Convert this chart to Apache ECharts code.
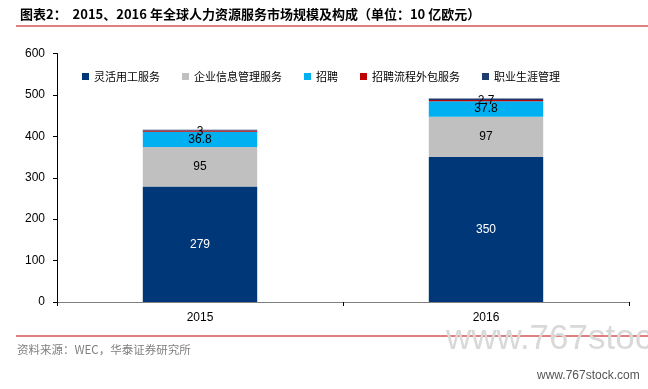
<!DOCTYPE html>
<html>
<head>
<meta charset="utf-8">
<script src="https://cdn.jsdelivr.net/npm/echarts@6/dist/echarts.min.js"></script>
<style>
html,body{margin:0;padding:0;background:#fff;}
#c{width:648px;height:389px;}
</style>
</head>
<body>
<div id="c"></div>
<script>
var categories = ['2015', '2016'];
var flexibleStaffing = [279, 350];
var infoManagement = [95, 97];
var recruitment = [36.8, 37.8];
var rpo = [3, 2.7];
var careerManagement = [2, 4];
var seriesNames = ['灵活用工服务', '企业信息管理服务', '招聘', '招聘流程外包服务', '职业生涯管理'];
var yTicks = [0, 100, 200, 300, 400, 500, 600];

var chart = echarts.init(document.getElementById('c'), null, {renderer: 'canvas'});
var lblBase = {show: true, position: 'inside', fontSize: 12, fontFamily: 'Liberation Sans, Arial, sans-serif'};
function mk(name, data, color, labelColor, showLabel) {
  return {
    name: name, type: 'bar', stack: 'total', data: data, barWidth: '40%',
    itemStyle: {color: color},
    label: Object.assign({}, lblBase, {show: showLabel, color: labelColor}),
    emphasis: {disabled: true}
  };
}
chart.setOption({
  animation: false,
  backgroundColor: '#fff',
  title: {
    text: '图表2：  2015、2016 年全球人力资源服务市场规模及构成（单位：10 亿欧元）',
    left: 15, top: 3,
    textStyle: {fontSize: 13, fontWeight: 'bold', color: '#000', fontFamily: 'Noto Sans CJK SC, Liberation Sans, sans-serif'}
  },
  legend: {
    data: seriesNames,
    left: 77, top: 66,
    itemWidth: 7, itemHeight: 7, itemGap: 22,
    icon: 'rect',
    textStyle: {fontSize: 11, color: '#000', fontFamily: 'Noto Sans CJK SC, sans-serif'}
  },
  grid: {left: 57, right: 19, top: 53.5, bottom: 87, containLabel: false},
  xAxis: {
    type: 'category', data: categories,
    axisLine: {lineStyle: {color: '#7f7f7f', width: 1}},
    axisTick: {show: true, inside: false, length: 4, alignWithLabel: false, lineStyle: {color: '#000'}},
    axisLabel: {fontSize: 12, color: '#000', margin: 10, fontFamily: 'Liberation Sans, Arial, sans-serif'}
  },
  yAxis: {
    type: 'value', min: yTicks[0], max: yTicks[yTicks.length - 1], interval: 100,
    axisLine: {show: true, lineStyle: {color: '#000', width: 1}},
    axisTick: {show: true, length: 4, lineStyle: {color: '#000'}},
    splitLine: {show: false},
    axisLabel: {fontSize: 12, color: '#000', margin: 12, fontFamily: 'Liberation Sans, Arial, sans-serif'}
  },
  graphic: [
    {type: 'line', shape: {x1: 16, y1: 26, x2: 648, y2: 26}, style: {stroke: '#c00000', lineWidth: 1.2}},
    {type: 'line', shape: {x1: 16, y1: 336, x2: 648, y2: 336}, style: {stroke: '#c00000', lineWidth: 1.2}},
    {type: 'text', left: 446, top: 322, style: {text: 'www.767stock', font: '35px "Liberation Sans", Arial, sans-serif', fill: '#d9d9d9'}},
    {type: 'text', left: 17, top: 344, style: {text: '资料来源：WEC，华泰证券研究所', font: '11.5px "Noto Sans CJK SC", sans-serif', fill: '#7f7f7f'}},
    {type: 'text', left: 537, top: 370, style: {text: 'www.767stock.com', font: '12px "Liberation Sans", Arial, sans-serif', fill: '#555'}}
  ],
  series: [
    mk(seriesNames[0], flexibleStaffing, '#003778', '#fff', true),
    mk(seriesNames[1], infoManagement, '#c0c0c0', '#000', true),
    mk(seriesNames[2], recruitment, '#00b0f0', '#000', true),
    mk(seriesNames[3], rpo, '#c00000', '#000', true),
    mk(seriesNames[4], careerManagement, '#1f3c6e', '#000', false)
  ]
});
</script>
</body>
</html>
